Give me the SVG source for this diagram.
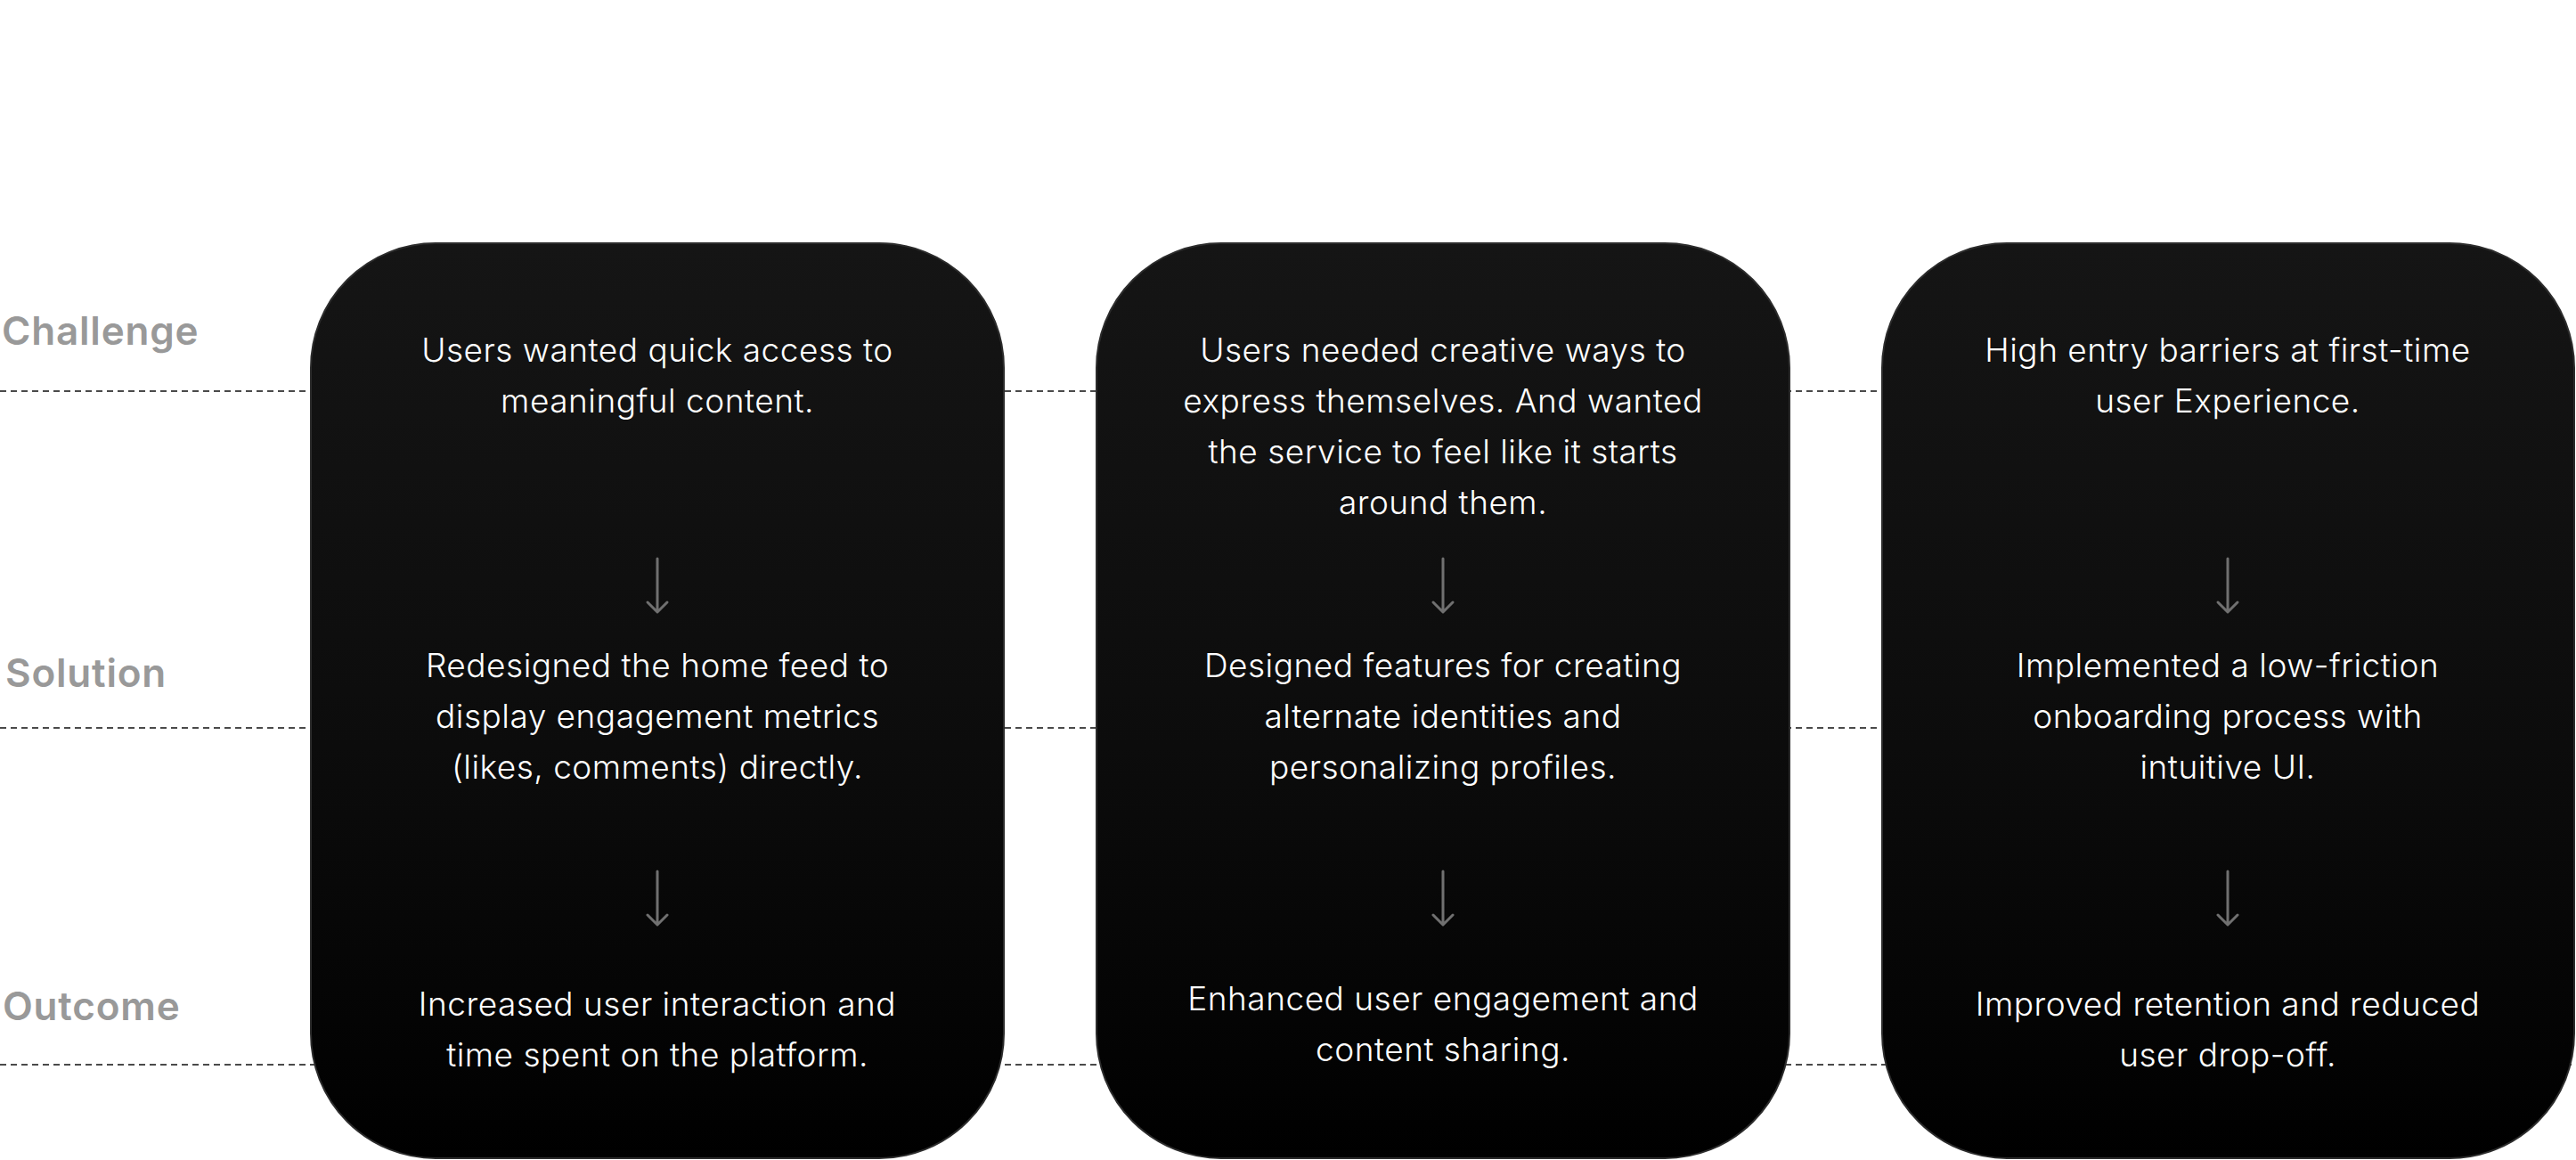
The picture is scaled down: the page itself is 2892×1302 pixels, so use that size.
<svg xmlns="http://www.w3.org/2000/svg" width="2892" height="1302" viewBox="0 0 2892 1302">
<style>
.lbl{font-family:Inter,"Liberation Sans",sans-serif;font-weight:600;font-size:44px;letter-spacing:0.8px;fill:#999999}
.txt{font-family:Inter,"Liberation Sans",sans-serif;font-weight:300;font-size:37px;letter-spacing:0.5px;fill:#ffffff;text-anchor:middle}
.dash{stroke:#4a4a4a;stroke-width:2;stroke-dasharray:7 5;fill:none}
.card{fill:url(#cg);stroke:#2c2c2c;stroke-width:2}
.arr{stroke:#707070;stroke-width:3;fill:none;stroke-linecap:round;stroke-linejoin:round}
</style>
<defs>
<linearGradient id="cg" x1="0" y1="0" x2="0" y2="1">
<stop offset="0" stop-color="#151515"/>
<stop offset="0.55" stop-color="#0c0c0c"/>
<stop offset="1" stop-color="#000000"/>
</linearGradient>
</defs>
<rect width="2892" height="1302" fill="#ffffff"/>
<g id="connectors">
<line class="dash" x1="0" y1="439" x2="2892" y2="439"/>
<line class="dash" x1="0" y1="817" x2="2892" y2="817"/>
<line class="dash" x1="0" y1="1195" x2="2892" y2="1195"/>
</g>
<g id="labels">
<text class="lbl" x="2" y="387">Challenge</text>
<text class="lbl" x="6" y="771">Solution</text>
<text class="lbl" x="3" y="1145">Outcome</text>
</g>
<g id="card1">
<rect class="card" x="349" y="273" width="778" height="1027" rx="140"/>
<text class="txt" x="738" y="406">Users wanted quick access to</text>
<text class="txt" x="738" y="463">meaningful content.</text>
<path class="arr" d="M738 627V686M727 676L738 687L749 676"/>
<text class="txt" x="738" y="760">Redesigned the home feed to</text>
<text class="txt" x="738" y="817">display engagement metrics</text>
<text class="txt" x="738" y="874">(likes, comments) directly.</text>
<path class="arr" d="M738 978V1037M727 1027L738 1038L749 1027"/>
<text class="txt" x="738" y="1140">Increased user interaction and</text>
<text class="txt" x="738" y="1197">time spent on the platform.</text>
</g>
<g id="card2">
<rect class="card" x="1231" y="273" width="778" height="1027" rx="140"/>
<text class="txt" x="1620" y="406">Users needed creative ways to</text>
<text class="txt" x="1620" y="463">express themselves. And wanted</text>
<text class="txt" x="1620" y="520">the service to feel like it starts</text>
<text class="txt" x="1620" y="577">around them.</text>
<path class="arr" d="M1620 627V686M1609 676L1620 687L1631 676"/>
<text class="txt" x="1620" y="760">Designed features for creating</text>
<text class="txt" x="1620" y="817">alternate identities and</text>
<text class="txt" x="1620" y="874">personalizing profiles.</text>
<path class="arr" d="M1620 978V1037M1609 1027L1620 1038L1631 1027"/>
<text class="txt" x="1620" y="1134">Enhanced user engagement and</text>
<text class="txt" x="1620" y="1191">content sharing.</text>
</g>
<g id="card3">
<rect class="card" x="2113" y="273" width="777" height="1027" rx="140"/>
<text class="txt" x="2501" y="406">High entry barriers at first-time</text>
<text class="txt" x="2501" y="463">user Experience.</text>
<path class="arr" d="M2501 627V686M2490 676L2501 687L2512 676"/>
<text class="txt" x="2501" y="760">Implemented a low-friction</text>
<text class="txt" x="2501" y="817">onboarding process with</text>
<text class="txt" x="2501" y="874">intuitive UI.</text>
<path class="arr" d="M2501 978V1037M2490 1027L2501 1038L2512 1027"/>
<text class="txt" x="2501" y="1140">Improved retention and reduced</text>
<text class="txt" x="2501" y="1197">user drop-off.</text>
</g>
</svg>
